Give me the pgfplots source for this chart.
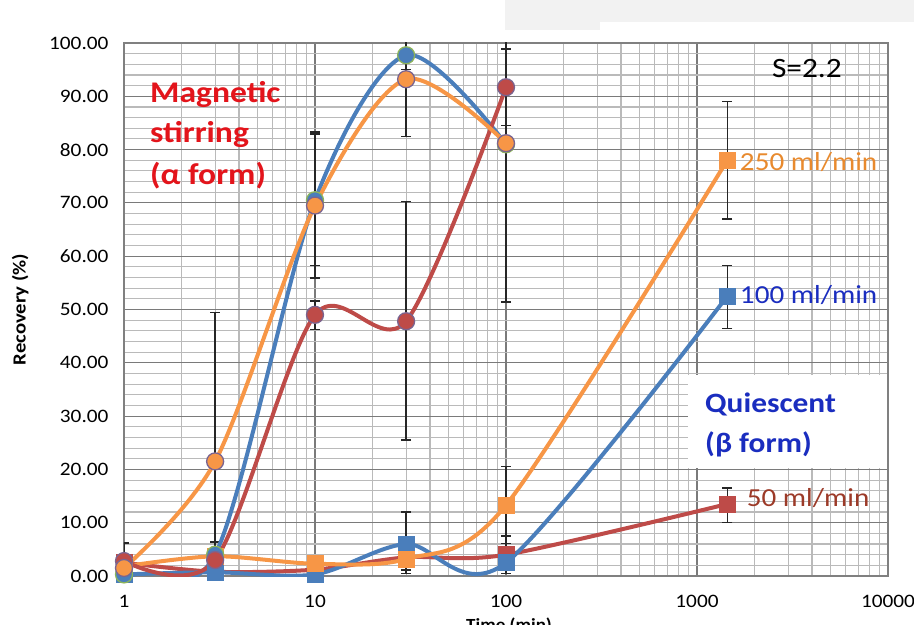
\documentclass[border=0pt]{standalone}
\usepackage{fontspec}
\setmainfont{Carlito}[FakeStretch=1.12]
\usepackage{pgfplots}
\usepackage{pgfplotstable}
\pgfplotsset{compat=1.18}

\definecolor{cblue}{HTML}{4A7EBB}
\definecolor{cred}{HTML}{BE4B48}
\definecolor{corange}{HTML}{F79646}
\definecolor{cgreen}{HTML}{8DB45A}
\definecolor{cpurp}{HTML}{7A6490}
\definecolor{tred}{HTML}{E3141B}
\definecolor{tblue}{HTML}{1A2DBF}
\definecolor{tbrown}{HTML}{9C3A28}
\definecolor{torange}{HTML}{E88A2E}
\definecolor{bandgray}{HTML}{F2F2F2}

% magnetic stirring (circles)
\pgfplotstableread{
x y
1 0.3
3 4
10 70.5
30 97.7
100 81
}\circblue
\pgfplotstableread{
x y
1 2.8
3 3
10 49
30 47.8
100 91.7
}\circred
\pgfplotstableread{
x y
1 1.5
3 21.5
10 69.5
30 93.2
100 81.2
}\circorange
% quiescent (squares)
\pgfplotstableread{
x y
1 0.3
3 0.7
10 0.3
30 6
100 2.5
1440 52.5
}\sqblue
\pgfplotstableread{
x y
1 2.5
3 0.8
10 1.2
30 3.5
100 4
1440 13.5
}\sqred
\pgfplotstableread{
x y
1 1.8
3 3.7
10 2.3
30 3.2
100 13.3
1440 78
}\sqorange
% error bars
\pgfplotstableread{
x y ep em
1 2.8 3.4 3.4
3 21.5 28 28
3 3 3.4 3
10 70.5 12.8 12.2
10 69.5 13.4 13.6
10 49 2.6 2.7
30 97.7 2.7 2.7
30 93.2 10.7 10.7
30 47.8 22.4 22.3
30 6 6 5.5
30 3.2 2.1 2.1
30 3.5 3 3
100 91.7 7.2 7.2
100 81.2 30 29.8
100 13.3 7.2 7.2
100 4 3.5 3.5
100 2.5 1.2 1.2
1440 78 11 11
1440 52.5 5.8 6
1440 13.5 3 3.4
}\errs

\begin{document}
\begin{tikzpicture}
\begin{axis}[
  name=ax,
  xmode=log,
  scale only axis,
  width=764pt, height=533pt,
  xmin=1, xmax=10000, ymin=0, ymax=100,
  xtick={1,10,100,1000,10000},
  xticklabels={1,10,100,1000,10000},
  minor xtick={2,3,4,5,6,7,8,9,20,30,40,50,60,70,80,90,200,300,400,500,600,700,800,900,2000,3000,4000,5000,6000,7000,8000,9000},
  ytick={0,10,...,100},
  minor y tick num=4,
  grid=both,
  major grid style={color=black!52, line width=1.2pt},
  minor grid style={color=black!27, line width=1.1pt},
  axis line style={black!50, line width=1.2pt},
  major tick length=0pt, minor tick length=0pt,
  /pgf/number format/fixed,
  /pgf/number format/fixed zerofill,
  /pgf/number format/precision=2,
  /pgf/number format/assume math mode=true,
  yticklabel style={font=\fontsize{19}{22}\selectfont, xshift=-12pt},
  xticklabel style={font=\fontsize{19}{22}\selectfont, yshift=-16pt},
  ylabel={Recovery (\%)},
  ylabel style={at={(rel axis cs:-0.136,0.5)}, anchor=center, font=\bfseries\fontsize{18.5}{22}\selectfont},
  xlabel={Time (min)},
  xlabel style={at={(rel axis cs:0.504,-0.0713)}, anchor=north, font=\bfseries\fontsize{17}{20}\selectfont},
]
% white box behind "Quiescent"
\fill[white] (rel axis cs:0.738,0.2026) rectangle (rel axis cs:0.9987,0.377);

% error bars
\addplot[draw=none, mark=none, forget plot,
  error bars/.cd, y dir=both, y explicit,
  error bar style={line width=1.3pt, black!85},
  error mark options={rotate=90, line width=1.3pt, mark size=5pt, black!85}]
  table[x=x, y=y, y error plus=ep, y error minus=em]{\errs};

% quiescent squares
\addplot[cred, line width=4pt, smooth, tension=0.5, mark=square*, mark size=8pt,
  mark options={solid, line width=0.8pt, fill=cred, draw=cred}] table[x=x,y=y]{\sqred};
\addplot[cblue, line width=4pt, smooth, tension=0.5, mark=square*, mark size=8pt,
  mark options={solid, line width=0.8pt, fill=cblue, draw=cblue}] table[x=x,y=y]{\sqblue};
\addplot[corange, line width=4pt, smooth, tension=0.5, mark=square*, mark size=8pt,
  mark options={solid, line width=0.8pt, fill=corange, draw=corange}] table[x=x,y=y]{\sqorange};

% magnetic stirring circles
\addplot[cblue, line width=4pt, smooth, tension=0.5, mark=*, mark size=8.5pt,
  mark options={solid, line width=1.3pt, fill=cblue, draw=cgreen}] table[x=x,y=y]{\circblue};
\addplot[cred, line width=4pt, smooth, tension=0.5, mark=*, mark size=8.5pt,
  mark options={solid, line width=1.3pt, fill=cred, draw=cpurp}] table[x=x,y=y]{\circred};
\addplot[corange, line width=4pt, smooth, tension=0.5, mark=*, mark size=8.5pt,
  mark options={solid, line width=1.3pt, fill=corange, draw=cpurp}] table[x=x,y=y]{\circorange};

% annotations
\node[anchor=base west, text=tred, font=\bfseries\fontsize{30}{36}\selectfont, inner sep=0pt] at (rel axis cs:0.034,0.8893) {Magnetic};
\node[anchor=base west, text=tred, font=\bfseries\fontsize{30}{36}\selectfont, inner sep=0pt] at (rel axis cs:0.034,0.8124) {stirring};
\node[anchor=base west, text=tred, font=\bfseries\fontsize{30}{36}\selectfont, inner sep=0pt] at (rel axis cs:0.034,0.7336) {(α form)};
\node[anchor=base west, text=black, font=\fontsize{28}{34}\selectfont, inner sep=0pt] at (rel axis cs:0.848,0.936) {S=2.2};
\node[anchor=base west, text=torange, font=\fontsize{26}{31}\selectfont, inner sep=0pt] at (rel axis cs:0.806,0.7617) {250 ml/min};
\node[anchor=base west, text=tblue, font=\fontsize{26}{31}\selectfont, inner sep=0pt] at (rel axis cs:0.806,0.512) {100 ml/min};
\node[anchor=base west, text=tbrown, font=\fontsize{26}{31}\selectfont, inner sep=0pt] at (rel axis cs:0.815,0.1295) {50 ml/min};
\node[anchor=base west, text=tblue, font=\bfseries\fontsize{28}{34}\selectfont, inner sep=0pt] at (rel axis cs:0.7605,0.3077) {Quiescent};
\node[anchor=base west, text=tblue, font=\bfseries\fontsize{28}{34}\selectfont, inner sep=0pt] at (rel axis cs:0.7605,0.2308) {(β form)};
\end{axis}
% faint grey band along the top edge (as in the reference scan)
\fill[bandgray] ([shift={(381pt,43pt)}]ax.north west) rectangle ([shift={(26pt,21pt)}]ax.north east);
\fill[bandgray] ([shift={(381pt,43pt)}]ax.north west) rectangle ([shift={(476pt,13pt)}]ax.north west);
\pgfresetboundingbox
\path ([shift={(-124pt,-48pt)}]ax.south west) rectangle ([shift={(26pt,43pt)}]ax.north east);
\end{tikzpicture}
\end{document}
